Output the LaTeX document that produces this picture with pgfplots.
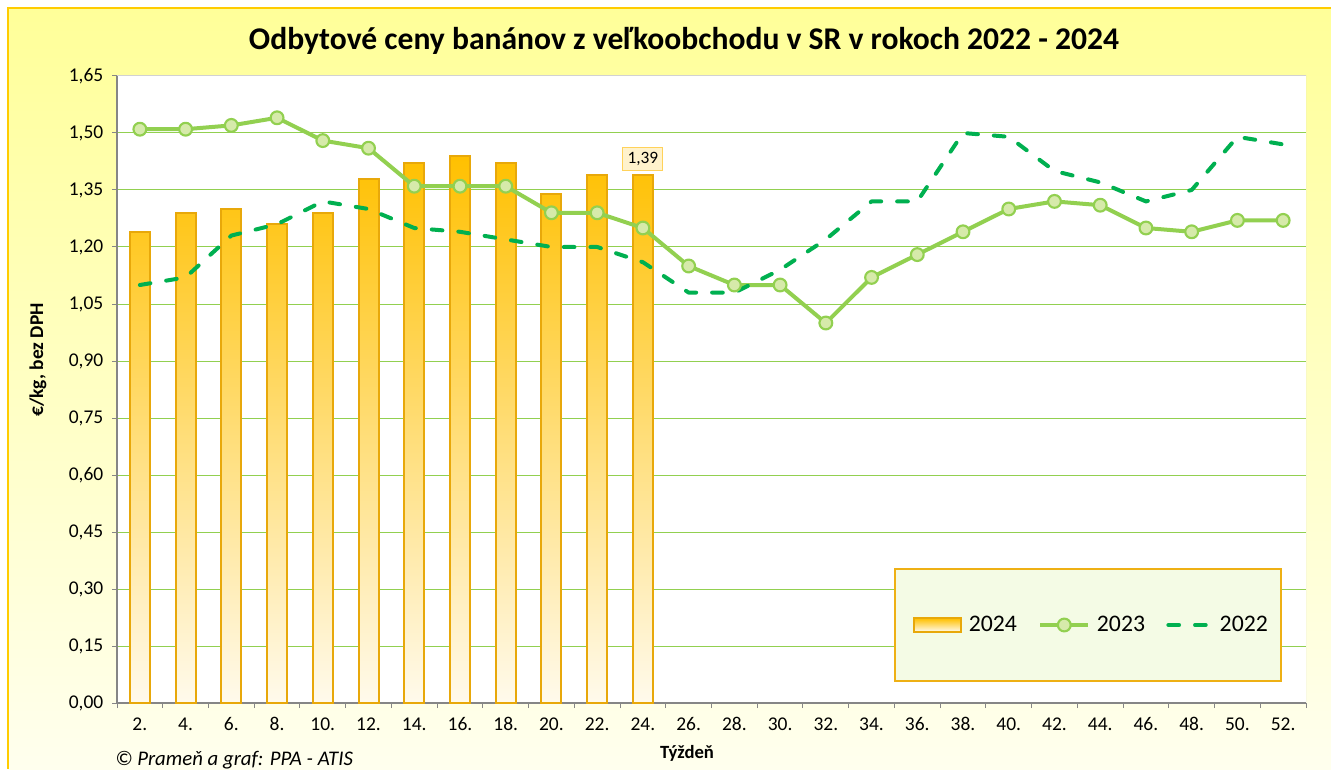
\documentclass[border=0pt]{standalone}
\usepackage{fontspec}
\setmainfont{Carlito}
\usepackage{pgfplots}
\pgfplotsset{compat=1.18}

\definecolor{bgtop}{RGB}{255,255,153}
\definecolor{bgbot}{RGB}{255,255,238}
\definecolor{frame}{RGB}{255,204,0}
\definecolor{gridgreen}{RGB}{146,208,80}
\definecolor{line23}{RGB}{146,208,80}
\definecolor{mark23}{RGB}{214,234,170}
\definecolor{line22}{RGB}{0,176,80}
\definecolor{bartop}{RGB}{255,192,0}
\definecolor{barbot}{RGB}{255,250,236}
\definecolor{baredge}{RGB}{232,168,10}
\definecolor{legfill}{RGB}{244,251,229}
\definecolor{legedge}{RGB}{238,176,20}
\definecolor{lblfill}{RGB}{255,242,204}
\definecolor{lbledge}{RGB}{255,210,90}
\definecolor{axgray}{RGB}{134,134,134}

\pgfplotsset{
  barlegend/.style={legend image code/.code={\draw[##1] (0pt,-5pt) rectangle (35pt,5pt);}},
  linelegend/.style={legend image code/.code={\draw[##1, mark=none] (0pt,0pt) -- (36pt,0pt);
      \path[##1] plot coordinates {(18pt,0pt)};}},
  dashlegend/.style={legend image code/.code={\draw[##1, dash pattern=on 8pt off 12pt] (2pt,0pt) -- (34pt,0pt);}},
}

% weekly prices, x = index of week (1 -> week 2, 26 -> week 52)
\pgfplotstableread{
x y
1 1.24
2 1.29
3 1.30
4 1.26
5 1.29
6 1.38
7 1.42
8 1.44
9 1.42
10 1.34
11 1.39
12 1.39
}\tblA
\pgfplotstableread{
x y
1 1.51
2 1.51
3 1.52
4 1.54
5 1.48
6 1.46
7 1.36
8 1.36
9 1.36
10 1.29
11 1.29
12 1.25
13 1.15
14 1.10
15 1.10
16 1.00
17 1.12
18 1.18
19 1.24
20 1.30
21 1.32
22 1.31
23 1.25
24 1.24
25 1.27
26 1.27
}\tblB
\pgfplotstableread{
x y
1 1.10
2 1.12
3 1.23
4 1.26
5 1.32
6 1.30
7 1.25
8 1.24
9 1.22
10 1.20
11 1.20
12 1.16
13 1.08
14 1.08
15 1.14
16 1.22
17 1.32
18 1.32
19 1.50
20 1.49
21 1.40
22 1.37
23 1.32
24 1.35
25 1.49
26 1.47
}\tblC

\begin{document}
\begin{tikzpicture}
\path[use as bounding box] (0,0) rectangle (998.25pt,576.75pt);
\begin{scope}[x=0.75pt,y=0.75pt]
\fill[white] (0,0) rectangle (1331,769);
\shade[top color=bgtop, bottom color=bgbot] (8,0) rectangle (1331,761);
\draw[frame, line width=1.5pt] (8,0) -- (8,761) -- (1331,761);
\fill[white] (117,66) rectangle (1306,693);
\node[font=\fontsize{23.7}{27}\selectfont\bfseries, anchor=base] at (684,719) {Odbytové ceny banánov z veľkoobchodu v SR v rokoch 2022 - 2024};
\node[font=\fontsize{14.6}{17}\selectfont\bfseries, rotate=90] at (38,409) {€/kg, bez DPH};
\node[font=\fontsize{14}{16}\selectfont\bfseries] at (687,16) {Týždeň};
\node[font=\fontsize{15.6}{17}\selectfont\itshape, anchor=west, inner sep=0pt] at (115,9) {© Prameň a graf: PPA - ATIS};
\end{scope}

\begin{axis}[
    at={(87.75pt,49.5pt)}, anchor=south west,
    scale only axis,
    width=891.75pt, height=470.25pt,
    xmin=0.5, xmax=26.5,
    ymin=0, ymax=1.65,
    axis x line*=bottom, axis y line*=left,
    axis line style={axgray, line width=0.9pt},
    xtick={0.5,1.5,...,26.5},
    x tick label as interval,
    xticklabels={2.,4.,6.,8.,10.,12.,14.,16.,18.,20.,22.,24.,26.,28.,30.,32.,34.,36.,38.,40.,42.,44.,46.,48.,50.,52.},
    ytick={0,0.15,0.30,0.45,0.60,0.75,0.90,1.05,1.20,1.35,1.50,1.65},
    tick align=outside,
    major tick length=3.75pt,
    tick style={axgray, line width=0.75pt},
    ymajorgrids,
    grid style={gridgreen, line width=0.75pt},
    ticklabel style={font=\fontsize{14.6}{17}\selectfont},
    xticklabel style={yshift=-3pt, text height=10pt, text depth=0pt},
    yticklabel style={xshift=-3pt, /pgf/number format/.cd, fixed, fixed zerofill, precision=2, use comma, assume math mode=true},
    legend columns=3,
    legend style={at={(0.8200,0.1244)}, anchor=center, draw=none, fill=none,
        font=\fontsize{17.8}{20}\selectfont,
        /tikz/every even column/.append style={column sep=14pt},
        /tikz/every odd column/.append style={column sep=3pt}},
]
\addplot[ybar, bar width=15pt, draw=baredge, line width=1.5pt,
    top color=bartop, bottom color=barbot,
    area legend, barlegend]
    table[x=x, y=y] {\tblA};
\addlegendentry{2024}
\addplot[line23, line width=3pt, line join=round, mark=*, mark size=4.8pt,
    mark options={fill=mark23, draw=line23, line width=1.6pt}, linelegend]
    table[x=x, y=y] {\tblB};
\addlegendentry{2023}
\addplot[line22, line width=3pt, line cap=round, line join=round,
    dash pattern=on 8pt off 12pt, dashlegend]
    table[x=x, y=y] {\tblC};
\addlegendentry{2022}
\draw[lightgray!70, line width=0.75pt] (rel axis cs:0,1) -- (rel axis cs:1,1) -- (rel axis cs:1,0);
\draw[legedge, fill=legfill, line width=1.5pt] (rel axis cs:0.6543,0.0351) rectangle (rel axis cs:0.9790,0.2137);
\node[anchor=south, yshift=3pt, fill=lblfill, draw=lbledge, line width=0.75pt,
    font=\fontsize{13}{15}\selectfont, inner sep=3.5pt] at (axis cs:12,1.39) {1,39};
\end{axis}
\end{tikzpicture}
\end{document}
